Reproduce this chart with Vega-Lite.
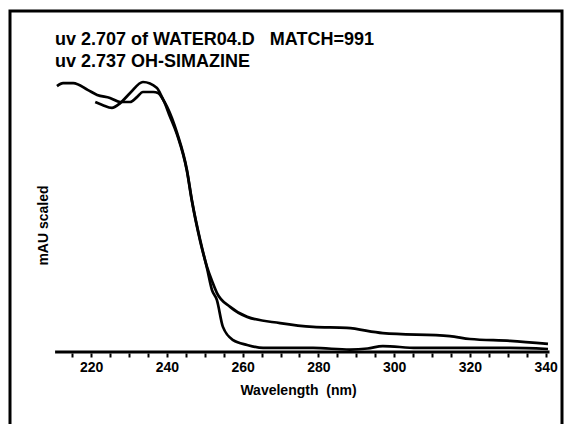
{
  "$schema": "https://vega.github.io/schema/vega-lite/v6.json",
  "width": 552,
  "height": 419,
  "autosize": {"type": "none"},
  "padding": {"left": 10, "top": 11, "right": 4, "bottom": 0},
  "background": "white",
  "config": {
    "view": {"stroke": "black", "strokeWidth": 3},
    "font": "Liberation Sans"
  },
  "title": {
    "text": ["uv 2.707 of WATER04.D\u00a0\u00a0\u00a0MATCH=991", "uv 2.737 OH-SIMAZINE"],
    "anchor": "start",
    "frame": "group",
    "orient": "top",
    "baseline": "top",
    "offset": 0,
    "dx": 45,
    "dy": 60,
    "fontSize": 18,
    "fontWeight": "bold",
    "lineHeight": 22,
    "color": "black"
  },
  "datasets": {
    "spectra": [
      {"series": "WATER04.D", "nm": 211.0, "v": 98.5},
      {"series": "WATER04.D", "nm": 212.6, "v": 99.6},
      {"series": "WATER04.D", "nm": 215.3, "v": 99.6},
      {"series": "WATER04.D", "nm": 219.2, "v": 97.0},
      {"series": "WATER04.D", "nm": 221.6, "v": 95.2},
      {"series": "WATER04.D", "nm": 225.0, "v": 94.1},
      {"series": "WATER04.D", "nm": 227.7, "v": 92.6},
      {"series": "WATER04.D", "nm": 230.3, "v": 92.6},
      {"series": "WATER04.D", "nm": 232.1, "v": 94.4},
      {"series": "WATER04.D", "nm": 233.7, "v": 96.3},
      {"series": "WATER04.D", "nm": 236.4, "v": 96.3},
      {"series": "WATER04.D", "nm": 237.7, "v": 95.9},
      {"series": "WATER04.D", "nm": 239.0, "v": 93.5},
      {"series": "WATER04.D", "nm": 240.1, "v": 90.7},
      {"series": "WATER04.D", "nm": 242.7, "v": 81.1},
      {"series": "WATER04.D", "nm": 245.3, "v": 67.4},
      {"series": "WATER04.D", "nm": 246.6, "v": 56.3},
      {"series": "WATER04.D", "nm": 248.8, "v": 41.5},
      {"series": "WATER04.D", "nm": 250.6, "v": 31.5},
      {"series": "WATER04.D", "nm": 252.0, "v": 26.0},
      {"series": "WATER04.D", "nm": 253.2, "v": 21.9},
      {"series": "WATER04.D", "nm": 256.7, "v": 16.7},
      {"series": "WATER04.D", "nm": 261.2, "v": 13.0},
      {"series": "WATER04.D", "nm": 269.9, "v": 10.7},
      {"series": "WATER04.D", "nm": 278.6, "v": 9.3},
      {"series": "WATER04.D", "nm": 287.5, "v": 8.9},
      {"series": "WATER04.D", "nm": 297.0, "v": 7.0},
      {"series": "WATER04.D", "nm": 314.7, "v": 5.9},
      {"series": "WATER04.D", "nm": 320.0, "v": 4.8},
      {"series": "WATER04.D", "nm": 330.6, "v": 4.1},
      {"series": "WATER04.D", "nm": 340.6, "v": 3.0},
      {"series": "OH-SIMAZINE", "nm": 221.1, "v": 92.6},
      {"series": "OH-SIMAZINE", "nm": 223.0, "v": 91.5},
      {"series": "OH-SIMAZINE", "nm": 225.5, "v": 90.4},
      {"series": "OH-SIMAZINE", "nm": 227.7, "v": 92.2},
      {"series": "OH-SIMAZINE", "nm": 230.3, "v": 95.9},
      {"series": "OH-SIMAZINE", "nm": 233.7, "v": 100.0},
      {"series": "OH-SIMAZINE", "nm": 237.4, "v": 97.8},
      {"series": "OH-SIMAZINE", "nm": 238.2, "v": 95.9},
      {"series": "OH-SIMAZINE", "nm": 239.5, "v": 92.0},
      {"series": "OH-SIMAZINE", "nm": 240.6, "v": 88.0},
      {"series": "OH-SIMAZINE", "nm": 242.7, "v": 80.5},
      {"series": "OH-SIMAZINE", "nm": 245.3, "v": 67.0},
      {"series": "OH-SIMAZINE", "nm": 246.6, "v": 56.0},
      {"series": "OH-SIMAZINE", "nm": 248.8, "v": 41.0},
      {"series": "OH-SIMAZINE", "nm": 250.6, "v": 31.0},
      {"series": "OH-SIMAZINE", "nm": 251.9, "v": 23.0},
      {"series": "OH-SIMAZINE", "nm": 253.2, "v": 19.3},
      {"series": "OH-SIMAZINE", "nm": 254.8, "v": 9.3},
      {"series": "OH-SIMAZINE", "nm": 257.5, "v": 4.4},
      {"series": "OH-SIMAZINE", "nm": 261.2, "v": 2.6},
      {"series": "OH-SIMAZINE", "nm": 265.4, "v": 1.5},
      {"series": "OH-SIMAZINE", "nm": 278.6, "v": 1.5},
      {"series": "OH-SIMAZINE", "nm": 288.3, "v": 0.9},
      {"series": "OH-SIMAZINE", "nm": 293.0, "v": 1.3},
      {"series": "OH-SIMAZINE", "nm": 297.0, "v": 2.2},
      {"series": "OH-SIMAZINE", "nm": 306.0, "v": 1.5},
      {"series": "OH-SIMAZINE", "nm": 330.6, "v": 1.5},
      {"series": "OH-SIMAZINE", "nm": 340.6, "v": 1.1}
    ],
    "baseline": [
      {"series": "baseline", "nm": 210.5, "v": 0},
      {"series": "baseline", "nm": 341.0, "v": 0}
    ]
  },
  "encoding": {
    "x": {
      "field": "nm",
      "type": "quantitative",
      "scale": {"domain": [198.6, 344.3], "nice": false, "zero": false},
      "axis": {
        "orient": "bottom",
        "offset": -77,
        "domain": false,
        "grid": false,
        "values": [215, 220, 225, 230, 235, 240, 245, 250, 255, 260, 265, 270, 275, 280, 285, 290, 295, 300, 305, 310, 315, 320, 325, 330, 335, 340],
        "labelExpr": "datum.value % 20 == 0 ? datum.label : ''",
        "ticks": true,
        "tickSize": 4,
        "tickWidth": 2,
        "tickColor": "black",
        "labelFont": "Liberation Sans",
        "labelFontSize": 14,
        "labelFontWeight": "bold",
        "labelColor": "black",
        "labelPadding": 3,
        "labelFlush": false,
        "labelOverlap": false,
        "title": "Wavelength\u00a0\u00a0(nm)",
        "titleFont": "Liberation Sans",
        "titleFontSize": 14,
        "titleFontWeight": "bold",
        "titleColor": "black",
        "titleX": 288,
        "titleY": 37,
        "titleBaseline": "middle",
        "titleAlign": "center"
      }
    },
    "y": {
      "field": "v",
      "type": "quantitative",
      "scale": {"domain": [-28.9, 126.3], "nice": false, "zero": false},
      "axis": {
        "domain": false,
        "ticks": false,
        "labels": false,
        "grid": false,
        "title": "mAU scaled",
        "titleFont": "Liberation Sans",
        "titleFontSize": 14,
        "titleFontWeight": "bold",
        "titleColor": "black",
        "titleAngle": -90,
        "titleX": 33,
        "titleY": 214,
        "titleBaseline": "middle",
        "titleAlign": "center"
      }
    }
  },
  "layer": [
    {
      "data": {"name": "spectra"},
      "mark": {"type": "line", "color": "black", "strokeWidth": 2.7, "interpolate": "monotone"},
      "encoding": {"detail": {"field": "series", "type": "nominal"}}
    },
    {
      "data": {"name": "baseline"},
      "mark": {"type": "line", "color": "black", "strokeWidth": 3},
      "encoding": {}
    }
  ]
}
